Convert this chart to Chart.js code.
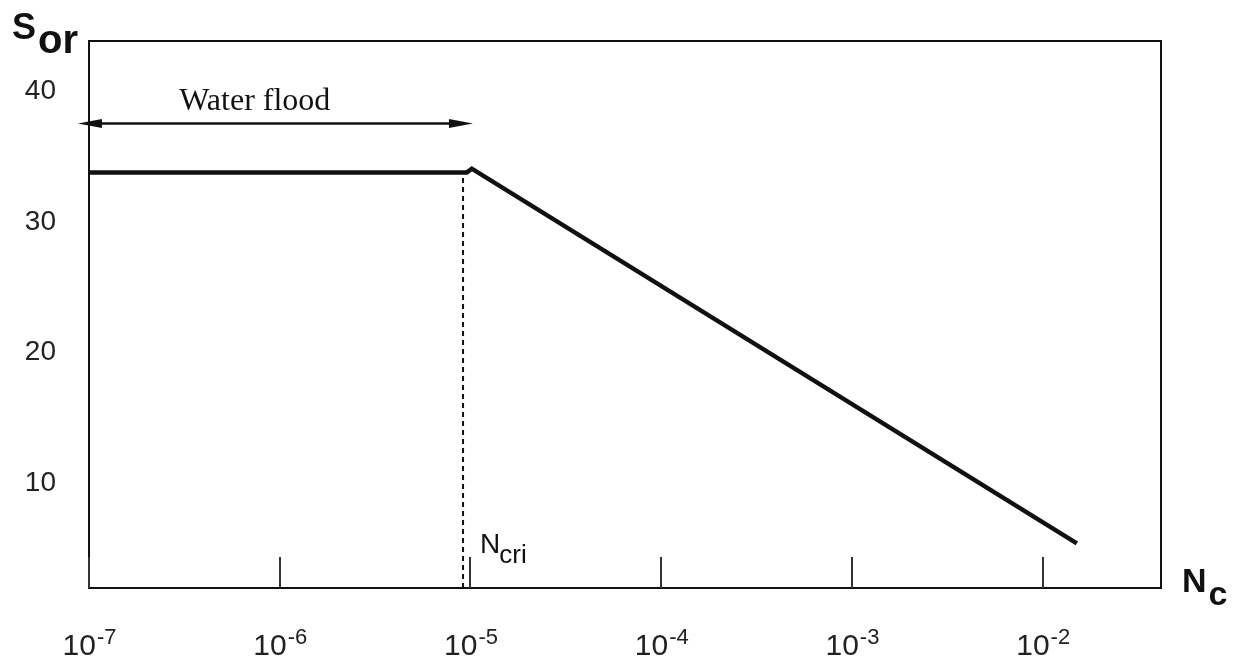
<!DOCTYPE html>
<html>
<head>
<meta charset="utf-8">
<style>
  html, body { margin: 0; padding: 0; background: #fff; }
  #wrap { width: 1240px; height: 664px; }
</style>
</head>
<body>
<div id="wrap"><canvas id="chart" width="1240" height="664"></canvas></div>
<script src="https://cdn.jsdelivr.net/npm/chart.js@4"></script>
<script>
// residual oil saturation S_or against capillary number N_c (log scale)
const ncValues = [1e-7, 9.56e-6, 1.016e-5, 0.0151];
const sorValues = [33.8, 33.8, 34.1, 5.4];

// critical capillary number, marked with the dashed line
const ncCritical = 9.14e-6;

// "Water flood" arrow: from / to in N_c, at this S_or
const waterFloodRange = [8.75e-8, 1.03e-5];
const waterFloodLevel = 37.6;

const xTickValues = [1e-7, 1e-6, 1e-5, 1e-4, 1e-3, 1e-2];
const xTickExponents = ['-7', '-6', '-5', '-4', '-3', '-2'];
const yTickValues = [10, 20, 30, 40];

const ink = '#111';
const sans = '"Liberation Sans", Arial, Helvetica, sans-serif';
const serif = '"Liberation Serif", "Times New Roman", serif';

function textWidth(ctx, font, s) {
  ctx.font = font;
  return ctx.measureText(s).width;
}

const decorations = {
  id: 'decorations',
  afterDatasetsDraw(chart) {
    const { ctx, chartArea: a, scales: { x, y } } = chart;
    ctx.save();
    ctx.strokeStyle = ink;
    ctx.fillStyle = ink;
    ctx.textAlign = 'left';
    ctx.textBaseline = 'alphabetic';

    // box round the plot
    ctx.lineWidth = 2;
    ctx.strokeRect(a.left, a.top, a.right - a.left, a.bottom - a.top);

    // short ticks pointing up from the bottom edge
    ctx.strokeStyle = '#333';
    xTickValues.forEach(v => {
      const px = Math.round(x.getPixelForValue(v));
      ctx.beginPath();
      ctx.moveTo(px, a.bottom);
      ctx.lineTo(px, a.bottom - 31);
      ctx.stroke();
    });

    // 10^n tick labels
    const baseFont = `30px ${sans}`;
    const expFont = `22px ${sans}`;
    ctx.fillStyle = '#222';
    xTickValues.forEach((v, i) => {
      const wb = textWidth(ctx, baseFont, '10');
      const we = textWidth(ctx, expFont, xTickExponents[i]);
      const left = x.getPixelForValue(v) - (wb + we) / 2;
      ctx.font = baseFont;
      ctx.fillText('10', left, a.bottom + 67);
      ctx.font = expFont;
      ctx.fillText(xTickExponents[i], left + wb + 1, a.bottom + 56);
    });

    // water flood arrow
    ctx.fillStyle = ink;
    ctx.strokeStyle = ink;
    const ay = Math.round(y.getPixelForValue(waterFloodLevel)) + 0.5;
    const x0 = x.getPixelForValue(waterFloodRange[0]);
    const x1 = x.getPixelForValue(waterFloodRange[1]);
    ctx.lineWidth = 2.5;
    ctx.beginPath();
    ctx.moveTo(x0 + 10, ay);
    ctx.lineTo(x1 - 10, ay);
    ctx.stroke();
    [[x0, 1], [x1, -1]].forEach(([tip, dir]) => {
      ctx.beginPath();
      ctx.moveTo(tip, ay);
      ctx.lineTo(tip + dir * 24, ay - 4.5);
      ctx.lineTo(tip + dir * 24, ay + 4.5);
      ctx.closePath();
      ctx.fill();
    });

    ctx.font = `32px ${serif}`;
    ctx.textAlign = 'center';
    ctx.fillText('Water flood', x.getPixelForValue(7.4e-7), y.getPixelForValue(38.6));
    ctx.textAlign = 'left';

    // N_cri next to the dashed line
    const nx = x.getPixelForValue(ncCritical) + 17;
    ctx.font = `28px ${sans}`;
    ctx.fillText('N', nx, a.bottom - 35);
    const nw = ctx.measureText('N').width;
    ctx.font = `26px ${sans}`;
    ctx.fillText('cri', nx + nw - 1, a.bottom - 25);

    // axis titles
    ctx.font = `bold 36px ${sans}`;
    ctx.fillText('S', 12, a.top - 2);
    const sw = ctx.measureText('S').width;
    ctx.font = `bold 40px ${sans}`;
    ctx.fillText('or', 12 + sw + 2, a.top + 12);

    ctx.font = `bold 34px ${sans}`;
    ctx.fillText('N', a.right + 21, a.bottom + 4);
    const Nw = ctx.measureText('N').width;
    ctx.font = `bold 34px ${sans}`;
    ctx.fillText('c', a.right + 23 + Nw, a.bottom + 17);

    ctx.restore();
  }
};

new Chart(document.getElementById('chart'), {
  type: 'line',
  data: {
    datasets: [
      {
        label: 'S_or',
        data: ncValues.map((v, i) => ({ x: v, y: sorValues[i] })),
        borderColor: ink,
        borderWidth: 4.5,
        pointRadius: 0,
        tension: 0,
        fill: false
      },
      {
        label: 'N_cri',
        data: [{ x: ncCritical, y: 1.98 }, { x: ncCritical, y: sorValues[0] }],
        borderColor: ink,
        borderWidth: 2,
        borderDash: [5, 4],
        pointRadius: 0,
        fill: false
      }
    ]
  },
  options: {
    responsive: false,
    animation: false,
    events: [],
    layout: {
      padding: { top: 41, right: 79, left: 0, bottom: 0 }
    },
    plugins: {
      legend: { display: false },
      tooltip: { enabled: false }
    },
    scales: {
      x: {
        type: 'logarithmic',
        min: 1e-7,
        max: 0.0417,
        ticks: { display: false },
        grid: { display: false, drawTicks: false },
        border: { display: false },
        afterFit(s) {
          s.height = 76;
          s.paddingLeft = 0;
          s.paddingRight = 0;
        }
      },
      y: {
        min: 1.98,
        max: 43.88,
        afterBuildTicks(s) {
          s.ticks = yTickValues.map(v => ({ value: v }));
        },
        ticks: {
          color: '#222',
          padding: 33,
          font: { family: sans, size: 28 }
        },
        grid: { display: false, drawTicks: false },
        border: { display: false },
        afterFit(s) {
          s.width = 89;
          s.paddingTop = 0;
          s.paddingBottom = 0;
        }
      }
    }
  },
  plugins: [decorations]
});
</script>
</body>
</html>
